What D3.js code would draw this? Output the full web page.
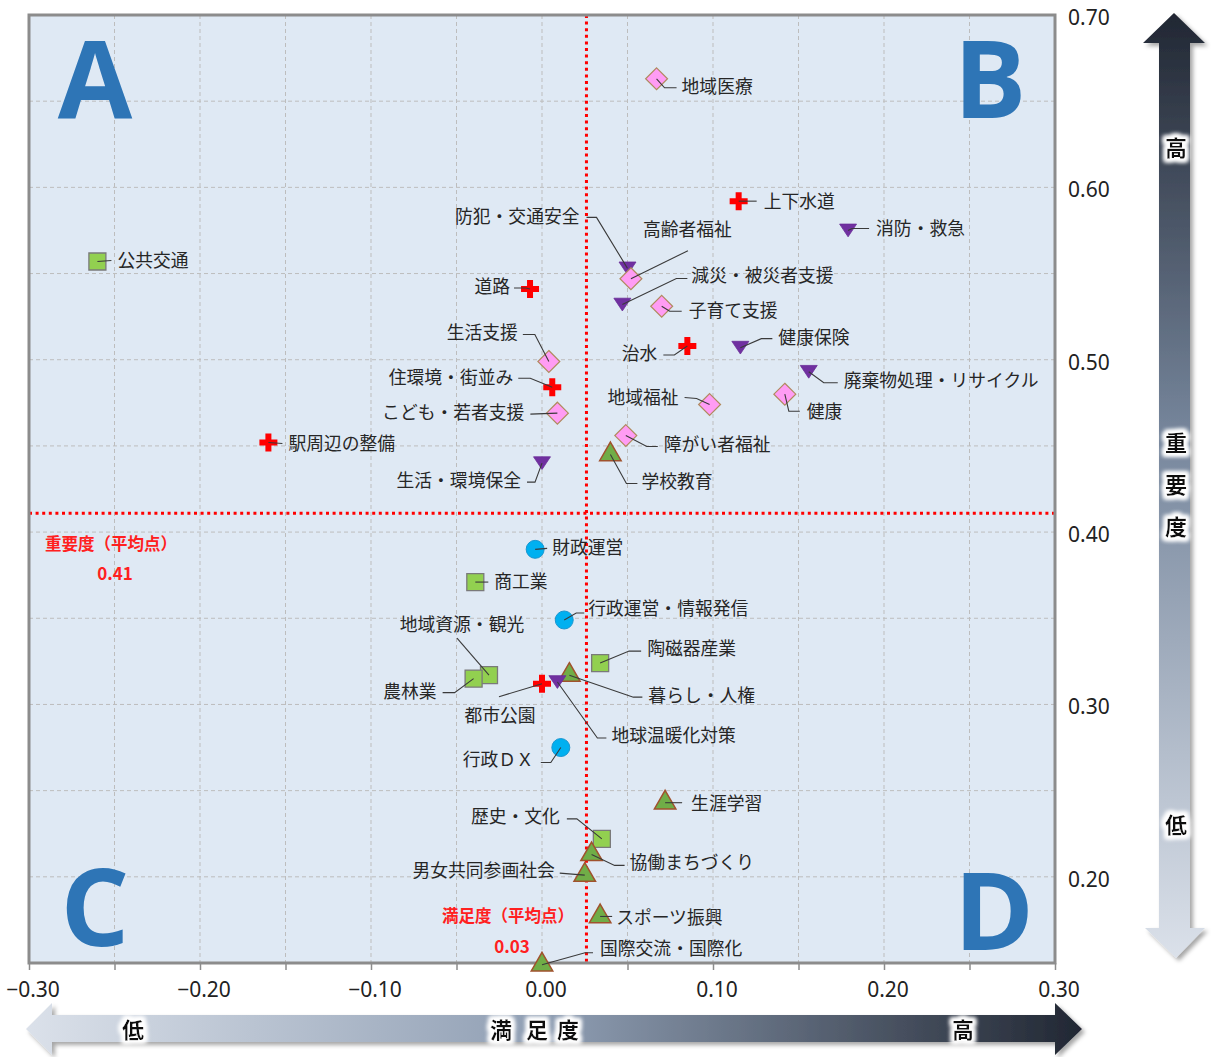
<!DOCTYPE html>
<html><head><meta charset="utf-8">
<script src="https://cdn.jsdelivr.net/npm/d3@7"></script>
<style>body{margin:0;background:#fff}</style>
</head><body>
<svg id="c" width="1211" height="1057"></svg>
<script>
// ---------------- data ----------------
const infraNames = ['上下水道','道路','治水','住環境・街並み','駅周辺の整備','都市公園'];
const infraSat   = [0.115,-0.007,0.085,0.006,-0.160,0.000];
const infraImp   = [0.592,0.541,0.508,0.484,0.452,0.312];

const safetyNames = ['消防・救急','防犯・交通安全','減災・被災者支援','健康保険','廃棄物処理・リサイクル','生活・環境保全','地球温暖化対策'];
const safetySat   = [0.179,0.050,0.047,0.116,0.156,0.000,0.009];
const safetyImp   = [0.575,0.553,0.532,0.507,0.493,0.440,0.313];

const welfareNames = ['地域医療','高齢者福祉','子育て支援','生活支援','地域福祉','健康','こども・若者支援','障がい者福祉'];
const welfareSat   = [0.067,0.052,0.070,0.004,0.098,0.142,0.009,0.049];
const welfareImp   = [0.663,0.547,0.531,0.499,0.474,0.480,0.469,0.456];

const industryNames = ['公共交通','商工業','陶磁器産業','地域資源・観光','農林業','歴史・文化'];
const industrySat   = [-0.260,-0.039,0.034,-0.031,-0.040,0.035];
const industryImp   = [0.557,0.371,0.324,0.317,0.315,0.222];

const educationNames = ['学校教育','暮らし・人権','生涯学習','協働まちづくり','男女共同参画社会','スポーツ振興','国際交流・国際化'];
const educationSat   = [0.040,0.016,0.072,0.029,0.025,0.034,0.000];
const educationImp   = [0.445,0.317,0.243,0.213,0.201,0.177,0.149];

const adminNames = ['財政運営','行政運営・情報発信','行政ＤＸ'];
const adminSat   = [-0.004,0.013,0.011];
const adminImp   = [0.390,0.349,0.275];

const satMean = 0.026;   // 満足度（平均点）
const impMean = 0.411;   // 重要度（平均点）

const xTicks = [-0.30,-0.20,-0.10,0.00,0.10,0.20,0.30];
const yTicks = [0.70,0.60,0.50,0.40,0.30,0.20];
const quadrantLetters = ['A','B','C','D'];

// ---------------- layout (label offsets in px, relative to marker) ----------------
const labelLayout = {
 '地域医療':{a:'start',t:[25,8],l:[[8,9],[20,9]]},
 '上下水道':{a:'start',t:[25,0],l:[[18,0]]},
 '消防・救急':{a:'start',t:[28,-2],l:[[4,-2],[21,-2]]},
 '公共交通':{a:'start',t:[20,-1],l:[[14,-1]]},
 '防犯・交通安全':{a:'end',t:[-48,-52],l:[[-31,-51],[-41,-51]]},
 '高齢者福祉':{a:'start',t:[12,-49],l:[[57,-28]]},
 '減災・被災者支援':{a:'start',t:[69,-29],l:[[54,-26],[65,-26]]},
 '子育て支援':{a:'start',t:[27,4],l:[[8,5],[20,5]]},
 '道路':{a:'end',t:[-20,-2],l:[[-4,-1],[-16,-1]]},
 '生活支援':{a:'end',t:[-31,-29],l:[[-14,-27],[-26,-27]]},
 '治水':{a:'end',t:[-30,8],l:[[-13,9],[-24,9]]},
 '健康保険':{a:'start',t:[38,-10],l:[[21,-9],[32,-9]]},
 '住環境・街並み':{a:'end',t:[-39,-10],l:[[-22,-9],[-34,-9]]},
 '地域福祉':{a:'end',t:[-31,-7],l:[[-13,-6],[-25,-7]]},
 '健康':{a:'start',t:[22,17],l:[[4,17],[15,17]]},
 '廃棄物処理・リサイクル':{a:'start',t:[35,9],l:[[15,11],[29,11]]},
 'こども・若者支援':{a:'end',t:[-33,-1],l:[[-27,1]]},
 '駅周辺の整備':{a:'start',t:[20,1],l:[[14,1]]},
 '障がい者福祉':{a:'start',t:[38,9],l:[[21,11],[32,11]]},
 '学校教育':{a:'start',t:[31,27],l:[[16,29],[27,29]]},
 '生活・環境保全':{a:'end',t:[-21,17],l:[[-7,19],[-15,19]]},
 '財政運営':{a:'start',t:[17,-2],l:[[12,-1]]},
 '商工業':{a:'start',t:[19,0],l:[[13,0]]},
 '行政運営・情報発信':{a:'start',t:[24,-11],l:[[12,-7],[20,-7]]},
 '陶磁器産業':{a:'start',t:[47,-14],l:[[29,-12],[41,-12]]},
 '地域資源・観光':{a:'middle',t:[-27,-51],l:[[-32,-37]]},
 '農林業':{a:'end',t:[-37,13],l:[[-19,14],[-31,14]]},
 '都市公園':{a:'middle',t:[-42,32],l:[[-43,13]]},
 '地球温暖化対策':{a:'start',t:[54,54],l:[[40,56],[49,56]]},
 '暮らし・人権':{a:'start',t:[79,20],l:[[64,22],[73,22]]},
 '行政ＤＸ':{a:'end',t:[-27,12],l:[[-10,15],[-20,15]]},
 '生涯学習':{a:'start',t:[26,1],l:[[17,0]]},
 '歴史・文化':{a:'end',t:[-42,-22],l:[[-25,-20],[-35,-20]]},
 '協働まちづくり':{a:'start',t:[38,8],l:[[23,11],[33,11]]},
 '男女共同参画社会':{a:'end',t:[-30,-5],l:[[-25,-2]]},
 'スポーツ振興':{a:'start',t:[16,1],l:[[12,0]]},
 '国際交流・国際化':{a:'start',t:[58,-16],l:[[43,-12],[51,-12]]}
};

// ---------------- build ----------------
const svg = d3.select('#c');
const L = 29, R = 1055, T = 15, B = 963;
const x = d3.scaleLinear().domain([-0.30,0.30]).range([L,R]);
const y = d3.scaleLinear().domain([0.15,0.70]).range([B,T]);

const defs = svg.append('defs');
const vg = defs.append('linearGradient').attr('id','vg').attr('x1',0).attr('y1',0).attr('x2',0).attr('y2',1);
[[0,'#212733'],[0.45,'#77879d'],[1,'#dbe1ea']].forEach(s=>vg.append('stop').attr('offset',s[0]).attr('stop-color',s[1]));
const hg = defs.append('linearGradient').attr('id','hg').attr('x1',0).attr('y1',0).attr('x2',1).attr('y2',0);
[[0,'#dbe1ea'],[0.5,'#8e9db2'],[1,'#212733']].forEach(s=>hg.append('stop').attr('offset',s[0]).attr('stop-color',s[1]));
const sh = defs.append('filter').attr('id','shadow').attr('x','-20%').attr('y','-20%').attr('width','140%').attr('height','140%');
sh.append('feDropShadow').attr('dx',3).attr('dy',3).attr('stdDeviation',2).attr('flood-color','#000').attr('flood-opacity',0.35);
const gl = defs.append('filter').attr('id','glow').attr('x','-50%').attr('y','-50%').attr('width','200%').attr('height','200%');
gl.append('feMorphology').attr('in','SourceAlpha').attr('operator','dilate').attr('radius',3).attr('result','d');
gl.append('feGaussianBlur').attr('in','d').attr('stdDeviation',2).attr('result','b');
gl.append('feFlood').attr('flood-color','#fff').attr('result','w');
gl.append('feComposite').attr('in','w').attr('in2','b').attr('operator','in').attr('result','g');
const gm = gl.append('feMerge'); gm.append('feMergeNode').attr('in','g'); gm.append('feMergeNode').attr('in','g'); gm.append('feMergeNode').attr('in','SourceGraphic');

// plot background
svg.append('rect').attr('x',L).attr('y',T).attr('width',R-L).attr('height',B-T).attr('fill','#dfe9f4');

// grid
const gridVals = d3.range(-0.25,0.30,0.05);
svg.append('g').selectAll('line').data(gridVals).join('line')
  .attr('x1',d=>x(d)).attr('x2',d=>x(d)).attr('y1',T).attr('y2',B)
  .attr('stroke','#bdbdbd').attr('stroke-dasharray','4,3');
const gridY = d3.range(0.20,0.70,0.05);
svg.append('g').selectAll('line').data(gridY).join('line')
  .attr('x1',L).attr('x2',R).attr('y1',d=>y(d)).attr('y2',d=>y(d))
  .attr('stroke','#bdbdbd').attr('stroke-dasharray','4,3');

// quadrant letters
const qPos = [[95,118],[990,118],[95,946],[994,950]];
svg.append('g').selectAll('text').data(quadrantLetters).join('text')
  .attr('x',(d,i)=>qPos[i][0]).attr('y',(d,i)=>qPos[i][1]).attr('text-anchor','middle')
  .attr('font-family','Open Sans, Liberation Sans, sans-serif').attr('font-weight',700).attr('font-size',108)
  .attr('fill','#2e75b6').text(d=>d);

// mean lines
svg.append('line').attr('x1',x(satMean)).attr('x2',x(satMean)).attr('y1',T).attr('y2',B)
  .attr('stroke','#ff0000').attr('stroke-width',3).attr('stroke-dasharray','3,3.6');
svg.append('line').attr('x1',L).attr('x2',R).attr('y1',y(impMean)).attr('y2',y(impMean))
  .attr('stroke','#ff0000').attr('stroke-width',3).attr('stroke-dasharray','3,3.6');

// frame
svg.append('rect').attr('x',L).attr('y',T).attr('width',R-L).attr('height',B-T)
  .attr('fill','none').attr('stroke','#8c8c8c').attr('stroke-width',3);

// x axis ticks
const xAxis = d3.axisBottom(x).tickValues(d3.range(-0.30,0.301,0.05)).tickSize(7).tickFormat('');
const xa = svg.append('g').attr('transform',`translate(0,${B})`).call(xAxis);
xa.select('.domain').remove();
xa.selectAll('line').attr('stroke','#8c8c8c').attr('stroke-width',1.5);
svg.append('g').selectAll('text').data(xTicks).join('text')
  .attr('x',d=>x(d)+4).attr('y',997).attr('text-anchor','middle')
  .attr('font-family','Noto Sans, sans-serif').attr('font-size',21).attr('fill','#222')
  .text(d=>d3.format('.2f')(d));
svg.append('g').selectAll('text').data(yTicks).join('text')
  .attr('x',1068).attr('y',d=>y(d)+10).attr('text-anchor','start')
  .attr('font-family','Noto Sans, sans-serif').attr('font-size',21).attr('fill','#222')
  .text(d=>d3.format('.2f')(d));

// mean labels
const redFont = 'Noto Sans CJK JP, sans-serif';
svg.append('text').attr('x',111).attr('y',550).attr('text-anchor','middle').attr('font-family',redFont)
  .attr('font-weight',700).attr('font-size',16.5).attr('fill','#ff2020').text('重要度（平均点）');
svg.append('text').attr('x',115).attr('y',580).attr('text-anchor','middle').attr('font-family',redFont)
  .attr('font-weight',700).attr('font-size',17).attr('fill','#ff2020').text(d3.format('.2f')(impMean));
svg.append('text').attr('x',508).attr('y',922).attr('text-anchor','middle').attr('font-family',redFont)
  .attr('font-weight',700).attr('font-size',16.5).attr('fill','#ff2020').text('満足度（平均点）');
svg.append('text').attr('x',512).attr('y',953).attr('text-anchor','middle').attr('font-family',redFont)
  .attr('font-weight',700).attr('font-size',17).attr('fill','#ff2020').text(d3.format('.2f')(satMean));

// ---------------- markers ----------------
const downTri = {draw(ctx,size){const w=Math.sqrt(size*1.6), h=w*0.75; ctx.moveTo(-w/2,-h/2); ctx.lineTo(w/2,-h/2); ctx.lineTo(0,h/2); ctx.closePath();}};
const diamond = {draw(ctx,size){const r=Math.sqrt(size)/Math.SQRT2; ctx.moveTo(0,-r); ctx.lineTo(r,0); ctx.lineTo(0,r); ctx.lineTo(-r,0); ctx.closePath();}};

const series = [
  {names:industryNames, sat:industrySat, imp:industryImp, type:d3.symbolSquare, size:289, fill:'#92d050', stroke:'#7a7a7a', sw:1.3},
  {names:educationNames, sat:educationSat, imp:educationImp, type:d3.symbolTriangle, size:200, fill:'#70ad47', stroke:'#a0522d', sw:1.5},
  {names:infraNames, sat:infraSat, imp:infraImp, type:d3.symbolCross, size:180, fill:'#ff0000', stroke:'none', sw:0},
  {names:safetyNames, sat:safetySat, imp:safetyImp, type:downTri, size:180, fill:'#7030a0', stroke:'#6a2c98', sw:0.8},
  {names:welfareNames, sat:welfareSat, imp:welfareImp, type:diamond, size:240, fill:'#ff9cf4', stroke:'#b08a5e', sw:1.2},
  {names:adminNames, sat:adminSat, imp:adminImp, type:d3.symbolCircle, size:254, fill:'#00b0f0', stroke:'#1996d0', sw:1}
];

const pts = [];
series.forEach(s=>{
  const data = s.names.map((n,i)=>({name:n, sx:s.sat[i], iy:s.imp[i]}));
  data.forEach(d=>pts.push(d));
  svg.append('g').selectAll('path').data(data).join('path')
    .attr('transform',d=>`translate(${x(d.sx)},${y(d.iy)})`)
    .attr('d',d3.symbol().type(s.type).size(s.size))
    .attr('fill',s.fill).attr('stroke',s.stroke).attr('stroke-width',s.sw);
});

// leader lines and labels
const lineGen = d3.line();
const lg = svg.append('g');
pts.forEach(d=>{
  const lay = labelLayout[d.name]; if(!lay) return;
  const px = x(d.sx), py = y(d.iy);
  const path = [[px,py]].concat(lay.l.map(p=>[px+p[0],py+p[1]]));
  lg.append('path').attr('d',lineGen(path)).attr('fill','none').attr('stroke','#3a3a3a').attr('stroke-width',1.1);
  lg.append('text').attr('x',px+lay.t[0]).attr('y',py+lay.t[1]).attr('dy','0.36em')
    .attr('text-anchor',lay.a).attr('font-family','Noto Sans CJK JP, sans-serif').attr('font-size',17.8)
    .attr('fill','#262626').text(d.name);
});

// ---------------- arrows ----------------
const vArrow = [[1174,13],[1205,43],[1190,43],[1190,928],[1205,928],[1176,958],[1145,928],[1159,928],[1159,43],[1143,43]];
svg.append('path').attr('d',lineGen(vArrow)+'Z').attr('fill','url(#vg)').attr('filter','url(#shadow)');
const hArrow = [[26,1029],[52,1003],[52,1015],[1055,1015],[1055,1003],[1082,1029],[1055,1055],[1055,1042],[52,1042],[52,1055]];
svg.append('path').attr('d',lineGen(hArrow)+'Z').attr('fill','url(#hg)').attr('filter','url(#shadow)');

const arrowLabels = [
  ['高',1176,148],['重',1176,443],['要',1176,485],['度',1176,527],['低',1176,825],
  ['低',133,1030],['満',501,1030],['足',537,1030],['度',568,1030],['高',963,1030]
];
svg.append('g').selectAll('text').data(arrowLabels).join('text')
  .attr('x',d=>d[1]).attr('y',d=>d[2]).attr('dy','0.36em').attr('text-anchor','middle')
  .attr('font-family','Noto Sans CJK JP, sans-serif').attr('font-weight',700).attr('font-size',22)
  .attr('fill','#111').attr('filter','url(#glow)').text(d=>d[0]);
</script>
</body></html>
